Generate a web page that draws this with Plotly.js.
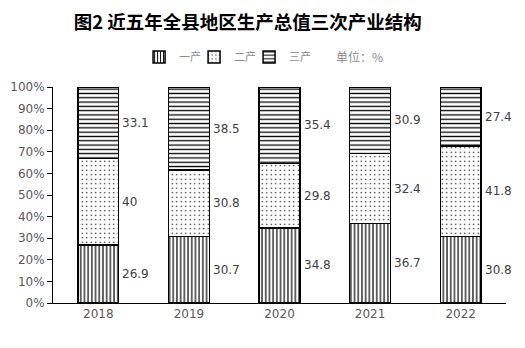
<!DOCTYPE html>
<html><head><meta charset="utf-8">
<script src="https://cdn.plot.ly/plotly-3.0.1.min.js"></script>
<style>body{margin:0;padding:0;background:#fff}#c{width:525px;height:348px}</style>
</head><body><div id="c"></div>
<script>
const years = ['2018','2019','2020','2021','2022'];
const primary = [26.9, 30.7, 34.8, 36.7, 30.8];
const secondary = [40, 30.8, 29.8, 32.4, 41.8];
const tertiary = [33.1, 38.5, 35.4, 30.9, 27.4];
const seriesNames = ['一产','二产','三产'];
const unitLabel = '单位：%';

const series = [primary, secondary, tertiary];
const shapes = ['|', '.', '-'];
const sizes = [3.7, 4.5, 4.3];
const solid = [0.32, 0.08, 0.3];
const traces = series.map((vals, i) => ({
  type: 'bar', x: years, y: vals, name: seriesNames[i],
  width: 0.45,
  marker: {color: '#ffffff', line: {color: '#000', width: 1.5},
    pattern: {shape: shapes[i], fgcolor: '#000', bgcolor: '#fff', size: sizes[i], solidity: solid[i]}},
  hoverinfo: 'none'
}));
// invisible spacer entry so the last legend label is not clipped
traces.push({type: 'bar', x: [years[0]], y: [null], name: '\u00a0', showlegend: true,
  marker: {color: 'rgba(0,0,0,0)', line: {width: 0}}, hoverinfo: 'none'});

const annotations = [];
years.forEach((yr, j) => {
  let base = 0;
  series.forEach(vals => {
    annotations.push({x: j, y: base + vals[j]/2, xref: 'x', yref: 'y', text: String(vals[j]),
      showarrow: false, xanchor: 'left', xshift: 22, font: {family: 'DejaVu Sans', size: 12, color: '#404040'}});
    base += vals[j];
  });
});
annotations.push({x: 0.62, y: 1.139, xref: 'paper', yref: 'paper', xanchor: 'left', yanchor: 'middle',
  text: unitLabel, showarrow: false, font: {family: 'Noto Sans CJK SC', size: 12, color: '#8c8c8c'}});

const layout = {
  width: 525, height: 348,
  margin: {l: 53, r: 19, t: 87, b: 45},
  paper_bgcolor: '#fff', plot_bgcolor: '#fff',
  barmode: 'stack',
  title: {text: '<b>图2 近五年全县地区生产总值三次产业结构</b>', x: 0.472, xanchor: 'center', y: 0.935, yanchor: 'middle',
    font: {family: 'Noto Sans CJK SC', size: 18.5, color: '#000'}},
  showlegend: true,
  legend: {orientation: 'h', x: 0.19, xanchor: 'left', y: 1.139, yanchor: 'middle', traceorder: 'normal',
    font: {family: 'Noto Sans CJK SC', size: 11, color: '#8c8c8c'}, itemwidth: 30, entrywidth: 10, tracegroupgap: 0},
  xaxis: {type: 'category', range: [-0.5, 4.5], showline: true, linecolor: '#000', linewidth: 1, ticks: '', showgrid: false,
    tickfont: {family: 'DejaVu Sans', size: 12, color: '#595959'}},
  yaxis: {range: [0, 100], dtick: 10, ticksuffix: '%', showline: true, linecolor: '#000', linewidth: 1,
    ticks: 'outside', ticklen: 5, tickcolor: '#000', showgrid: false, zeroline: false,
    tickfont: {family: 'DejaVu Sans', size: 12, color: '#595959'}},
  annotations: annotations
};
Plotly.newPlot('c', traces, layout, {displayModeBar: false, staticPlot: true});
</script></body></html>
